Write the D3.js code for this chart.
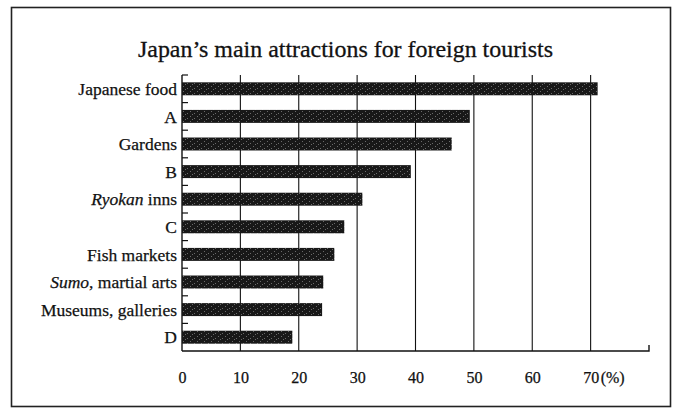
<!DOCTYPE html>
<html lang="en">
<head>
  <meta charset="UTF-8">
  <title>Japan's main attractions</title>
  <script src="https://d3js.org/d3.v7.min.js"></script>
  <style>
    * { margin: 0; padding: 0; box-sizing: border-box; }
    body { background: #fff; }
    svg text { font-family: "Liberation Serif", "Times New Roman", Tinos, "DejaVu Serif", serif; }
  </style>
</head>
<body>
  <div id="chart"></div>
  <script>
    const categories = ["Japanese food", "A", "Gardens", "B", "Ryokan inns", "C",
                        "Fish markets", "Sumo, martial arts", "Museums, galleries", "D"];
    const values = [71.2, 49.3, 46.2, 39.2, 30.9, 27.8, 26.1, 24.2, 24.0, 18.9];
    const italicWords = ["Ryokan", "Sumo"];
    const xTicks = [0, 10, 20, 30, 40, 50, 60, 70];
    const xMax = 80;
    const title = "Japan\u2019s main attractions for foreign tourists";

    const W = 674, H = 410;
    const plot = {left: 182, right: 649, top: 75, bottom: 351};
    const serif = "'Liberation Serif', 'Times New Roman', Tinos, 'DejaVu Serif', serif";

    const svg = d3.select("#chart")
                  .append("svg")
                  .attr("width", W)
                  .attr("height", H);

    // speckled bar texture like the scanned print
    const defs = svg.append("defs");
    const pat = defs.append("pattern")
                    .attr("id", "speckle")
                    .attr("width", 7)
                    .attr("height", 5)
                    .attr("patternUnits", "userSpaceOnUse");
    pat.append("rect").attr("width", 7).attr("height", 5).attr("fill", "#181818");
    [[1, 1], [5, 3], [3, 4]].forEach(([px, py]) => {
      pat.append("rect").attr("x", px).attr("y", py)
         .attr("width", 1).attr("height", 1).attr("fill", "#6a6a6a");
    });

    // outer frame
    svg.append("rect")
       .attr("x", 11.5).attr("y", 7.5)
       .attr("width", 659).attr("height", 399)
       .attr("fill", "none")
       .attr("stroke", "#222")
       .attr("stroke-width", 1.6);

    const x = d3.scaleLinear()
                .domain([0, xMax])
                .range([plot.left, plot.right]);

    const y = d3.scaleBand()
                .domain(categories)
                .range([plot.top, plot.bottom])
                .paddingInner(0.53)
                .paddingOuter(0.265);

    svg.append("text")
       .attr("x", 345.5)
       .attr("y", 57)
       .attr("text-anchor", "middle")
       .attr("textLength", 415)
       .attr("lengthAdjust", "spacingAndGlyphs")
       .style("font-family", serif)
       .style("font-size", "24px")
       .style("fill", "#111")
       .style("stroke", "#111")
       .style("stroke-width", 0.3)
       .text(title);

    // vertical grid lines
    svg.append("g")
       .selectAll("line")
       .data(xTicks.filter(d => d > 0))
       .enter()
       .append("line")
       .attr("x1", d => x(d)).attr("x2", d => x(d))
       .attr("y1", plot.top).attr("y2", plot.bottom)
       .attr("stroke", "#111")
       .attr("stroke-width", 1.1);

    // bottom axis line with end tick
    svg.append("path")
       .attr("d", `M${x(0)},${plot.bottom}H${x(xMax)}V${plot.bottom - 6}`)
       .attr("fill", "none")
       .attr("stroke", "#111")
       .attr("stroke-width", 1.4);

    // left axis line with ticks at band boundaries
    svg.append("line")
       .attr("x1", x(0)).attr("x2", x(0))
       .attr("y1", plot.top).attr("y2", plot.bottom)
       .attr("stroke", "#111")
       .attr("stroke-width", 1.4);

    svg.append("g")
       .selectAll("line")
       .data(d3.range(categories.length))
       .enter()
       .append("line")
       .attr("x1", x(0)).attr("x2", x(0) + 6)
       .attr("y1", i => plot.top + i * y.step())
       .attr("y2", i => plot.top + i * y.step())
       .attr("stroke", "#111")
       .attr("stroke-width", 1.2);

    // bars
    svg.append("g")
       .selectAll("rect")
       .data(categories)
       .enter()
       .append("rect")
       .attr("x", x(0))
       .attr("y", d => y(d))
       .attr("width", (d, i) => x(values[i]) - x(0))
       .attr("height", y.bandwidth())
       .attr("fill", "url(#speckle)");

    // category labels
    const labels = svg.append("g")
       .selectAll("text")
       .data(categories)
       .enter()
       .append("text")
       .attr("x", x(0) - 5)
       .attr("y", d => y(d) + y.bandwidth() / 2)
       .attr("dy", "0.35em")
       .attr("text-anchor", "end")
       .style("font-family", serif)
       .style("font-size", "17.5px")
       .style("fill", "#111")
       .style("stroke", "#111")
       .style("stroke-width", 0.25);

    labels.each(function(d) {
      const t = d3.select(this);
      const word = italicWords.find(w => d.startsWith(w));
      if (word) {
        t.append("tspan").style("font-style", "italic").text(word);
        t.append("tspan").text(d.slice(word.length));
      } else {
        t.text(d);
      }
    });

    // x tick labels
    const xAxis = svg.append("g")
       .attr("transform", `translate(0,${plot.bottom})`)
       .call(d3.axisBottom(x).tickValues(xTicks).tickSize(0).tickPadding(21).tickFormat(d3.format("d")));
    xAxis.select(".domain").remove();
    xAxis.attr("font-family", null);
    xAxis.selectAll("text")
         .style("font-family", serif)
         .style("font-size", "16px")
         .style("fill", "#111")
         .style("stroke", "#111")
         .style("stroke-width", 0.25);

    svg.append("text")
       .attr("x", x(70) + 10)
       .attr("y", plot.bottom + 32)
       .style("font-family", serif)
       .style("font-size", "16px")
       .style("fill", "#111")
       .style("stroke", "#111")
       .style("stroke-width", 0.25)
       .text("(%)");
  </script>
</body>
</html>
